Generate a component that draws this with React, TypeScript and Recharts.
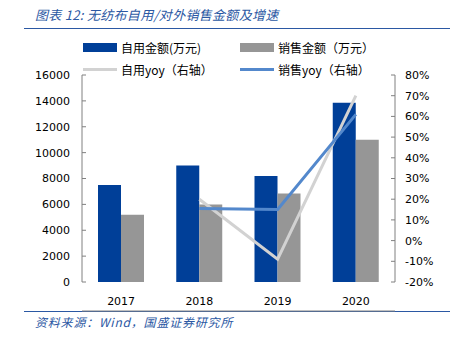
import React from 'react';
import { ComposedChart, Bar, Line, XAxis, YAxis } from 'recharts';

const years = ['2017', '2018', '2019', '2020'];
const selfUse = [7500, 9000, 8200, 13850];
const sales = [5200, 6000, 6850, 11000];
const selfYoy: (number | null)[] = [null, 20, -9, 70];
const salesYoy: (number | null)[] = [null, 15.5, 15, 61];
const leftTicks = [0, 2000, 4000, 6000, 8000, 10000, 12000, 14000, 16000];
const rightTicks = [-20, -10, 0, 10, 20, 30, 40, 50, 60, 70, 80];
const boundaryTicks = [0, 1, 2, 3, 4];

const data = years.map((y, i) => ({
  year: y,
  selfUse: selfUse[i],
  sales: sales[i],
  selfYoy: selfYoy[i],
  salesYoy: salesYoy[i],
}));

const DARK = '#003f98';
const GRAY = '#969696';
const LGRAY = '#d2d2d2';
const LBLUE = '#5388cc';
const TITLE = '#2b58a3';
const font = '"DejaVu Sans", sans-serif';
const cjk = '"Noto Sans CJK SC", sans-serif';
const tickStyle = { fontSize: 11, fill: '#000', fontFamily: font };

const LegendItem = ({ x, y, label, kind, color }: any) => (
  <div style={{ position: 'absolute', left: x, top: y - 8, height: 16, display: 'flex', alignItems: 'center', whiteSpace: 'nowrap' }}>
    {kind === 'rect' ? (
      <div style={{ width: 34, height: 9, background: color }} />
    ) : (
      <div style={{ width: 34, height: 3, background: color }} />
    )}
    <span style={{ marginLeft: 4, fontSize: 12, fontFamily: cjk, color: '#000' }}>{label}</span>
  </div>
);

export default function App() {
  return (
    <div style={{ position: 'absolute', left: 0, top: 0, width: 458, height: 338, background: '#fff', overflow: 'hidden' }}>
      <div style={{ position: 'absolute', left: 35, top: 5, fontSize: 13, fontStyle: 'italic', color: TITLE, fontFamily: cjk, whiteSpace: 'nowrap', letterSpacing: 0.3 }}>
        图表 12:&nbsp;无纺布自用/对外销售金额及增速
      </div>
      <div style={{ position: 'absolute', left: 24, top: 28, width: 426, height: 1, background: TITLE }} />
      <LegendItem x={83} y={47} label="自用金额(万元)" kind="rect" color={DARK} />
      <LegendItem x={240} y={47} label="销售金额（万元）" kind="rect" color={GRAY} />
      <LegendItem x={83} y={69} label="自用yoy（右轴）" kind="line" color={LGRAY} />
      <LegendItem x={240} y={69} label="销售yoy（右轴）" kind="line" color={LBLUE} />
      <div style={{ position: 'absolute', left: 24, top: 311, width: 426, height: 1, background: TITLE }} />
      <div style={{ position: 'absolute', left: 35, top: 313, fontSize: 12, fontStyle: 'italic', color: TITLE, fontFamily: cjk, whiteSpace: 'nowrap', letterSpacing: 0.8 }}>
        资料来源：Wind，国盛证券研究所
      </div>
      <div style={{ position: 'absolute', left: 0, top: 0 }}>
        <ComposedChart width={458} height={338} data={data} margin={{ top: 75, right: 13, bottom: 26, left: 0 }} barGap={0}>
          <XAxis
            xAxisId="g"
            type="number"
            domain={[0, 4]}
            ticks={boundaryTicks}
            height={1}
            tick={false}
            tickSize={-4}
            tickLine={{ stroke: '#808080' }}
            axisLine={{ stroke: '#808080' }}
            allowDataOverflow
          />
          <XAxis
            dataKey="year"
            height={29}
            axisLine={false}
            tickLine={false}
            tick={tickStyle}
            tickMargin={9}
          />
          <YAxis
            yAxisId="l"
            domain={[0, 16000]}
            ticks={leftTicks}
            width={82}
            tick={tickStyle}
            tickSize={-4}
            tickMargin={16}
            axisLine={{ stroke: '#808080' }}
            tickLine={{ stroke: '#808080' }}
            interval={0}
          />
          <YAxis
            yAxisId="r"
            orientation="right"
            domain={[-20, 80]}
            ticks={rightTicks}
            width={50}
            tick={tickStyle}
            tickSize={-4}
            tickMargin={14}
            tickFormatter={(v: number) => `${v}%`}
            axisLine={{ stroke: '#808080' }}
            tickLine={{ stroke: '#808080' }}
            interval={0}
          />
          <Bar yAxisId="l" dataKey="selfUse" fill={DARK} barSize={23} isAnimationActive={false} />
          <Bar yAxisId="l" dataKey="sales" fill={GRAY} barSize={23} isAnimationActive={false} />
          <Line yAxisId="r" dataKey="selfYoy" stroke={LGRAY} strokeWidth={3} dot={false} isAnimationActive={false} />
          <Line yAxisId="r" dataKey="salesYoy" stroke={LBLUE} strokeWidth={3} dot={false} isAnimationActive={false} />
        </ComposedChart>
      </div>
    </div>
  );
}
